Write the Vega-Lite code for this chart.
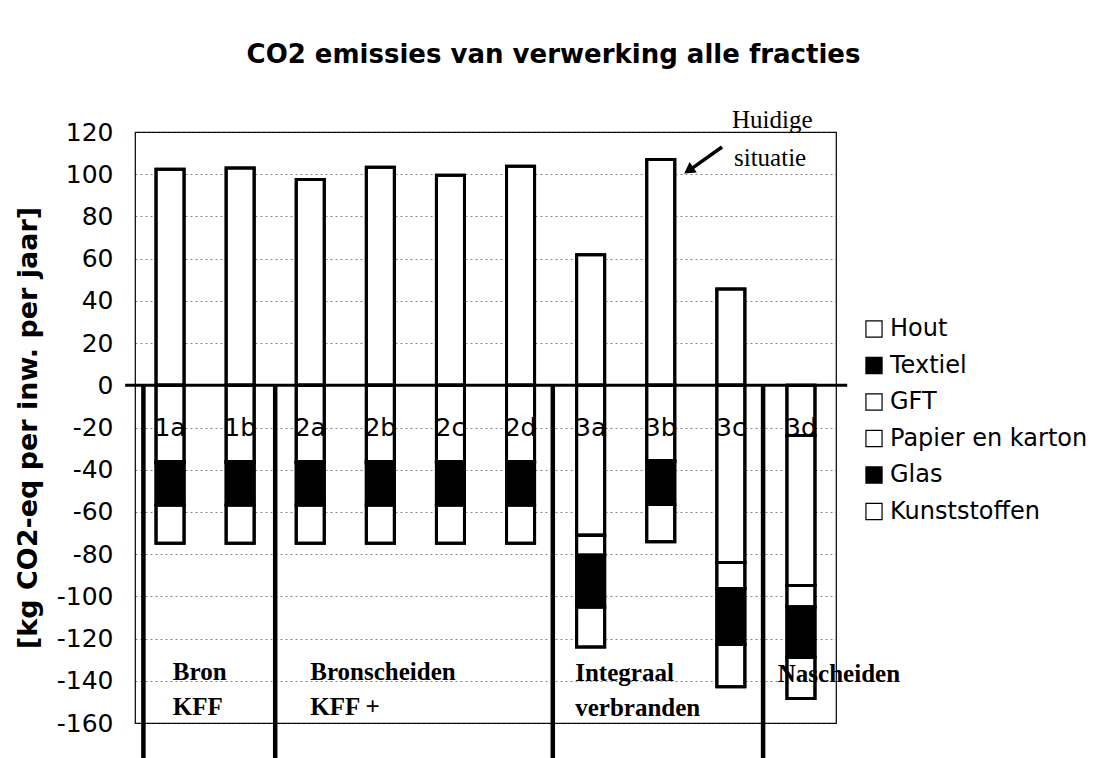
{
  "$schema": "https://vega.github.io/schema/vega-lite/v6.json",
  "width": 701,
  "height": 591,
  "autosize": {"type": "none"},
  "padding": {"left": 135, "top": 132, "right": 273, "bottom": 35},
  "background": "white",
  "config": {"view": {"stroke": "black", "strokeWidth": 1.2}, "font": "DejaVu Sans"},
  "title": {"text": "CO2 emissies van verwerking alle fracties", "font": "DejaVu Sans", "fontSize": 26, "fontWeight": "bold", "color": "black", "anchor": "middle", "dx": 68, "offset": 40},
  "layer": [
    {
      "data": {"values": [
        {"cat": "1a", "fractie": "Kunststoffen", "value": 102.4},
        {"cat": "1a", "fractie": "Papier en karton", "value": -36.2},
        {"cat": "1a", "fractie": "GFT", "value": -0.5},
        {"cat": "1a", "fractie": "Textiel", "value": -20},
        {"cat": "1a", "fractie": "Hout", "value": -18.1},
        {"cat": "1b", "fractie": "Kunststoffen", "value": 103},
        {"cat": "1b", "fractie": "Papier en karton", "value": -36.2},
        {"cat": "1b", "fractie": "GFT", "value": -0.5},
        {"cat": "1b", "fractie": "Textiel", "value": -20},
        {"cat": "1b", "fractie": "Hout", "value": -18.1},
        {"cat": "2a", "fractie": "Kunststoffen", "value": 97.5},
        {"cat": "2a", "fractie": "Papier en karton", "value": -36.2},
        {"cat": "2a", "fractie": "GFT", "value": -0.5},
        {"cat": "2a", "fractie": "Textiel", "value": -20},
        {"cat": "2a", "fractie": "Hout", "value": -18.1},
        {"cat": "2b", "fractie": "Kunststoffen", "value": 103.3},
        {"cat": "2b", "fractie": "Papier en karton", "value": -36.2},
        {"cat": "2b", "fractie": "GFT", "value": -0.5},
        {"cat": "2b", "fractie": "Textiel", "value": -20},
        {"cat": "2b", "fractie": "Hout", "value": -18.1},
        {"cat": "2c", "fractie": "Kunststoffen", "value": 99.5},
        {"cat": "2c", "fractie": "Papier en karton", "value": -36.2},
        {"cat": "2c", "fractie": "GFT", "value": -0.5},
        {"cat": "2c", "fractie": "Textiel", "value": -20},
        {"cat": "2c", "fractie": "Hout", "value": -18.1},
        {"cat": "2d", "fractie": "Kunststoffen", "value": 103.8},
        {"cat": "2d", "fractie": "Papier en karton", "value": -36.2},
        {"cat": "2d", "fractie": "GFT", "value": -0.5},
        {"cat": "2d", "fractie": "Textiel", "value": -20},
        {"cat": "2d", "fractie": "Hout", "value": -18.1},
        {"cat": "3a", "fractie": "Kunststoffen", "value": 61.8},
        {"cat": "3a", "fractie": "Papier en karton", "value": -71},
        {"cat": "3a", "fractie": "GFT", "value": -9.5},
        {"cat": "3a", "fractie": "Textiel", "value": -24.5},
        {"cat": "3a", "fractie": "Hout", "value": -19},
        {"cat": "3b", "fractie": "Kunststoffen", "value": 107},
        {"cat": "3b", "fractie": "Papier en karton", "value": -35.8},
        {"cat": "3b", "fractie": "GFT", "value": -0.5},
        {"cat": "3b", "fractie": "Textiel", "value": -20.2},
        {"cat": "3b", "fractie": "Hout", "value": -17.6},
        {"cat": "3c", "fractie": "Kunststoffen", "value": 45.6},
        {"cat": "3c", "fractie": "Papier en karton", "value": -84},
        {"cat": "3c", "fractie": "GFT", "value": -12.3},
        {"cat": "3c", "fractie": "Textiel", "value": -26.5},
        {"cat": "3c", "fractie": "Hout", "value": -20},
        {"cat": "3d", "fractie": "Kunststoffen", "value": -23.8},
        {"cat": "3d", "fractie": "Papier en karton", "value": -71.1},
        {"cat": "3d", "fractie": "GFT", "value": -10.2},
        {"cat": "3d", "fractie": "Textiel", "value": -23.7},
        {"cat": "3d", "fractie": "Hout", "value": -19.6}
      ]},
      "transform": [
        {"calculate": "indexof(['Kunststoffen','Glas','Papier en karton','GFT','Textiel','Hout'], datum.fractie)", "as": "ord"}
      ],
      "encoding": {
        "x": {"field": "cat", "type": "nominal", "axis": null, "scale": {"paddingInner": 0.6, "paddingOuter": 0.3}}
      },
      "layer": [
        {
          "mark": {"type": "bar", "stroke": "black", "strokeWidth": 3},
          "encoding": {
            "y": {"field": "value", "type": "quantitative", "stack": "zero",
              "scale": {"domain": [-160, 120], "nice": false},
              "axis": {
                "values": [-160, -140, -120, -100, -80, -60, -40, -20, 0, 20, 40, 60, 80, 100, 120],
                "labelExpr": "toString(datum.value)",
                "labelFont": "DejaVu Sans", "labelFontSize": 25, "labelColor": "black",
                "ticks": false, "labelPadding": 22, "domain": false,
                "grid": true, "gridColor": "#333", "gridDash": [2, 3], "gridWidth": 1, "gridOpacity": 0.6,
                "title": "[kg CO2-eq per inw. per jaar]",
                "titleFont": "DejaVu Sans", "titleFontSize": 27, "titleFontWeight": "bold", "titleColor": "black", "titlePadding": 14
              }
            },
            "color": {"field": "fractie", "type": "nominal",
              "scale": {"domain": ["Hout", "Textiel", "GFT", "Papier en karton", "Glas", "Kunststoffen"],
                        "range": ["white", "black", "white", "white", "black", "white"]},
              "legend": {"orient": "none", "legendX": 727, "legendY": 185, "title": null,
                "labelFont": "DejaVu Sans", "labelFontSize": 24, "labelColor": "black", "labelLimit": 400,
                "symbolType": "square", "symbolSize": 260, "symbolStrokeColor": "black", "symbolStrokeWidth": 1.2,
                "rowPadding": 12.5, "labelOffset": 4}
            },
            "order": {"field": "ord", "type": "quantitative"}
          }
        },
        {
          "transform": [{"filter": "datum.fractie == 'Kunststoffen'"}],
          "mark": {"type": "text", "font": "DejaVu Sans", "fontSize": 25, "color": "black", "baseline": "middle", "align": "center"},
          "encoding": {
            "y": {"datum": -20, "type": "quantitative"},
            "text": {"field": "cat"}
          }
        },
        {
          "mark": {"type": "bar", "filled": false, "stroke": "black", "strokeWidth": 3},
          "encoding": {
            "y": {"field": "value", "type": "quantitative", "stack": "zero"},
            "detail": {"field": "fractie"},
            "order": {"field": "ord", "type": "quantitative"}
          }
        }
      ]
    },
    {
      "data": {"values": [{}]},
      "layer": [
        {"mark": {"type": "rule", "stroke": "black", "strokeWidth": 3},
         "encoding": {"x": {"datum": -0.14, "type": "quantitative", "scale": {"domain": [0, 10]}, "axis": null}, "x2": {"datum": 10.16}, "y": {"datum": 0, "type": "quantitative"}}},
        {"mark": {"type": "rule", "stroke": "black", "strokeWidth": 4.5},
         "encoding": {"x": {"datum": 0.12, "type": "quantitative"}, "y": {"datum": 0, "type": "quantitative"}, "y2": {"datum": -178}}},
        {"mark": {"type": "rule", "stroke": "black", "strokeWidth": 4.5},
         "encoding": {"x": {"datum": 2, "type": "quantitative"}, "y": {"datum": 0, "type": "quantitative"}, "y2": {"datum": -178}}},
        {"mark": {"type": "rule", "stroke": "black", "strokeWidth": 4.5},
         "encoding": {"x": {"datum": 5.96, "type": "quantitative"}, "y": {"datum": 0, "type": "quantitative"}, "y2": {"datum": -178}}},
        {"mark": {"type": "rule", "stroke": "black", "strokeWidth": 4.5},
         "encoding": {"x": {"datum": 8.96, "type": "quantitative"}, "y": {"datum": 0, "type": "quantitative"}, "y2": {"datum": -178}}},
        {"mark": {"type": "text", "text": ["Bron", "KFF"], "font": "Liberation Serif", "fontSize": 25, "fontWeight": "bold", "color": "black", "align": "left", "baseline": "alphabetic", "lineHeight": 35},
         "encoding": {"x": {"datum": 0.54, "type": "quantitative"}, "y": {"datum": -139.6, "type": "quantitative"}}},
        {"mark": {"type": "text", "text": ["Bronscheiden", "KFF +"], "font": "Liberation Serif", "fontSize": 25, "fontWeight": "bold", "color": "black", "align": "left", "baseline": "alphabetic", "lineHeight": 35},
         "encoding": {"x": {"datum": 2.5, "type": "quantitative"}, "y": {"datum": -139.6, "type": "quantitative"}}},
        {"mark": {"type": "text", "text": ["Integraal", "verbranden"], "font": "Liberation Serif", "fontSize": 25, "fontWeight": "bold", "color": "black", "align": "left", "baseline": "alphabetic", "lineHeight": 35},
         "encoding": {"x": {"datum": 6.28, "type": "quantitative"}, "y": {"datum": -140, "type": "quantitative"}}},
        {"mark": {"type": "text", "text": "Nascheiden", "font": "Liberation Serif", "fontSize": 25, "fontWeight": "bold", "color": "black", "align": "left", "baseline": "alphabetic"},
         "encoding": {"x": {"datum": 9.17, "type": "quantitative"}, "y": {"datum": -140.4, "type": "quantitative"}}},
        {"mark": {"type": "text", "text": "Huidige", "font": "Liberation Serif", "fontSize": 25, "color": "black", "align": "center", "baseline": "alphabetic"},
         "encoding": {"x": {"datum": 9.09, "type": "quantitative"}, "y": {"datum": 121.9, "type": "quantitative"}}},
        {"mark": {"type": "text", "text": "situatie", "font": "Liberation Serif", "fontSize": 25, "color": "black", "align": "center", "baseline": "alphabetic"},
         "encoding": {"x": {"datum": 9.06, "type": "quantitative"}, "y": {"datum": 103.9, "type": "quantitative"}}},
        {"mark": {"type": "rule", "stroke": "black", "strokeWidth": 3.5},
         "encoding": {"x": {"datum": 8.374, "type": "quantitative"}, "x2": {"datum": 7.93}, "y": {"datum": 112.9, "type": "quantitative"}, "y2": {"datum": 102.4}}},
        {"mark": {"type": "point", "shape": "triangle", "filled": true, "color": "black", "size": 160, "angle": 235, "opacity": 1},
         "encoding": {"x": {"datum": 7.92, "type": "quantitative"}, "y": {"datum": 102.3, "type": "quantitative"}}}
      ]
    }
  ],
  "resolve": {"scale": {"x": "independent"}}
}
